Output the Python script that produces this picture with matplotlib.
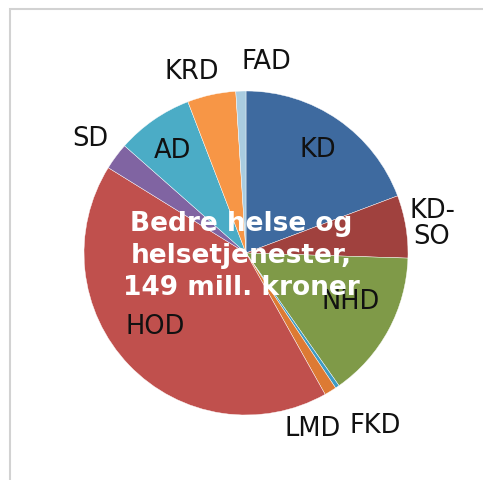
import matplotlib
matplotlib.use("Agg")
import matplotlib.pyplot as plt
from matplotlib.patches import Rectangle

categories = ["KD", "KD-\nSO", "NHD", "FKD", "LMD", "HOD", "SD", "AD", "KRD", "FAD"]
values = [28.7, 9.3, 22.0, 0.6, 1.8, 62.5, 4.0, 11.4, 7.2, 1.5]
colors = ["#3E6A9F", "#A0413E", "#7F9A48", "#3E9BC4", "#DD7A33",
          "#C0504D", "#8064A2", "#4BACC6", "#F79646", "#A9CCE0"]
label_pos = [(0.444, 0.636), (1.148, 0.179), (0.648, -0.302), (0.796, -1.068),
             (0.414, -1.086), (-0.562, -0.457), (-0.963, 0.704), (-0.451, 0.630),
             (-0.333, 1.117), (0.123, 1.179)]
title = "Bedre helse og\nhelsetjenester,\n149 mill. kroner"

W, H = 483, 480
fig = plt.figure(figsize=(W / 100, H / 100), dpi=100)
fig.patch.set_facecolor("white")
fig.add_artist(Rectangle((10 / W, -0.1), 1.2, 1 - 8.5 / H + 0.1, transform=fig.transFigure,
                         facecolor="none", edgecolor="#D2D2D2", linewidth=1.5, zorder=-10))

cx, cy, r = 246, 253, 162
ax = fig.add_axes([(cx - r) / W, (H - cy - r) / H, 2 * r / W, 2 * r / H])
ax.patch.set_alpha(0)
wedges, _ = ax.pie(values, colors=colors, startangle=90, counterclock=False,
                   wedgeprops=dict(linewidth=0.3, edgecolor="white"))
ax.set_xlim(-1, 1)
ax.set_ylim(-1, 1)
ax.set_aspect("equal")
ax.axis("off")

for lab, (x, y) in zip(categories, label_pos):
    ax.text(x, y, lab, ha="center", va="center", fontsize=18.5, color="#111111",
            family="DejaVu Sans", linespacing=1.0, clip_on=False)

ax.text(-0.028, -0.019, title, ha="center", va="center", fontsize=19,
        fontweight="bold", color="white", family="DejaVu Sans", linespacing=1.28)

fig.savefig("out.png", dpi=100)
